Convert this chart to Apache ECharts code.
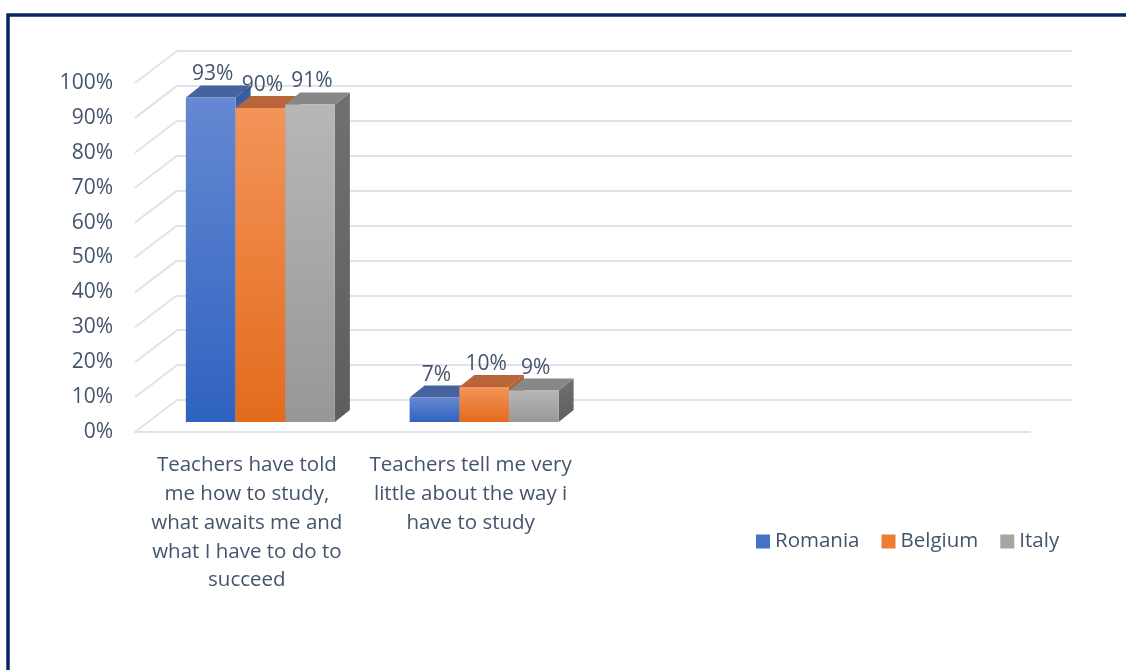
<!DOCTYPE html>
<html>
<head>
<meta charset="utf-8">
<script src="https://cdn.jsdelivr.net/npm/echarts@6/dist/echarts.min.js"></script>
<style>
  html, body { margin: 0; padding: 0; background: #fff; }
  #chart { width: 1126px; height: 670px; }
</style>
</head>
<body>
<div id="chart"></div>
<script>
// data
const categories = [
  "Teachers have told\nme how to study,\nwhat awaits me and\nwhat I have to do to\nsucceed",
  "Teachers tell me very\nlittle about the way i\nhave to study",
  "",
  ""
];
const countries = ["Romania", "Belgium", "Italy"];
const romania = [93, 7];
const belgium = [90, 10];
const italy = [91, 9];
const yTicks = [0, 10, 20, 30, 40, 50, 60, 70, 80, 90, 100];

const textColor = "#44546A";
const gridColor = "#e0e3ea";
const FONT = '"Open Sans", sans-serif';

// fake 3d: offset of back wall, of the bar plane and bar depth
const wall = { dx: 42, dy: -32 };
const barPlane = { dx: 13.5, dy: -10 };
const barDepth = { dx: 15, dy: -12 };

const palettes = [
  { front: ["#6589d2", "#2f62c0"], top: "#4663a0", side: ["#3a5ea6", "#2a4f94"], legend: "#4472C4" },
  { front: ["#f39459", "#e36b1c"], top: "#b9653a", side: ["#b5612f", "#a5531f"], legend: "#ED7D31" },
  { front: ["#b7b7b7", "#979797"], top: "#878787", side: ["#707070", "#5e5e5e"], legend: "#A5A5A5" }
];

function vgrad(c) {
  return { type: "linear", x: 0, y: 0, x2: 0, y2: 1,
    colorStops: [{ offset: 0, color: c[0] }, { offset: 1, color: c[1] }] };
}

function barItem(s) {
  return function (params, api) {
    const i = api.value(0), v = api.value(1);
    const base = api.coord([i, 0]);
    const top = api.coord([i, v]);
    const band = api.size([1, 0])[0];
    const w = band * 0.222;
    const x0 = base[0] + barPlane.dx + (s - 1.5) * w;
    const x1 = x0 + w;
    const yb = base[1] + barPlane.dy;
    const yt = top[1] + barPlane.dy;
    const ddx = barDepth.dx, ddy = barDepth.dy;
    const p = palettes[s];
    return {
      type: "group",
      children: [
        { type: "polygon",
          shape: { points: [[x1, yt], [x1 + ddx, yt + ddy], [x1 + ddx, yb + ddy], [x1, yb]] },
          style: { fill: vgrad(p.side) } },
        { type: "polygon",
          shape: { points: [[x0, yt], [x1, yt], [x1 + ddx, yt + ddy], [x0 + ddx, yt + ddy]] },
          style: { fill: p.top } },
        { type: "rect",
          shape: { x: x0, y: yt, width: w, height: yb - yt },
          style: { fill: vgrad(p.front) } },
        { type: "text",
          style: { text: v + "%", x: x0 + w / 2 + 2, y: yt + ddy - 11,
            align: "center", verticalAlign: "middle",
            fill: textColor, font: "21px " + FONT } }
      ]
    };
  };
}

function sideWallLine(params, api) {
  const y = api.coord([0, api.value(1)])[1];
  const x = params.coordSys.x;
  return { type: "line",
    shape: { x1: x, y1: y, x2: x + wall.dx, y2: y + wall.dy },
    style: { stroke: gridColor, lineWidth: 2 } };
}

const seriesValues = [romania, belgium, italy];

const option = {
  animation: false,
  backgroundColor: "#fff",
  textStyle: { fontFamily: FONT },
  graphic: [{
    type: "rect",
    shape: { x: 8, y: 15, width: 1300, height: 900 },
    style: { fill: "none", stroke: "#0a2463", lineWidth: 3.5 }
  }],
  legend: {
    data: countries,
    left: 751, top: 526,
    icon: "rect", itemWidth: 14, itemHeight: 14, itemGap: 22,
    textStyle: { color: textColor, fontSize: 20.5, fontFamily: FONT }
  },
  grid: [
    { left: 135, right: 96, top: 83, bottom: 238 },
    { left: 177, right: 54, top: 51, bottom: 270 }
  ],
  xAxis: [
    { type: "category", gridIndex: 0, data: categories,
      axisLine: { lineStyle: { color: gridColor, width: 2 } },
      axisTick: { show: false },
      axisLabel: { interval: 0, color: textColor, fontSize: 20.5, lineHeight: 28.8, margin: 19 } },
    { type: "category", gridIndex: 1, data: categories, show: false }
  ],
  yAxis: [
    { type: "value", gridIndex: 0, min: 0, max: 100, interval: 10,
      axisLine: { show: false }, axisTick: { show: false }, splitLine: { show: false },
      axisLabel: { formatter: "{value}%", color: textColor, fontSize: 21, margin: 22 } },
    { type: "value", gridIndex: 1, min: 0, max: 100, interval: 10,
      axisLine: { show: false }, axisTick: { show: false }, axisLabel: { show: false },
      splitLine: { lineStyle: { color: gridColor, width: 2 } } }
  ],
  series: [
    { type: "custom", name: "wall", xAxisIndex: 0, yAxisIndex: 0, silent: true, z: 1,
      renderItem: sideWallLine, data: yTicks.map(v => [0, v]) }
  ].concat(countries.map((name, s) => ({
    type: "custom", name: name, xAxisIndex: 0, yAxisIndex: 0, z: 3,
    itemStyle: { color: palettes[s].legend },
    renderItem: barItem(s),
    data: seriesValues[s].map((v, i) => [i, v])
  })))
};

const myChart = echarts.init(document.getElementById("chart"));
myChart.setOption(option);
</script>
</body>
</html>
